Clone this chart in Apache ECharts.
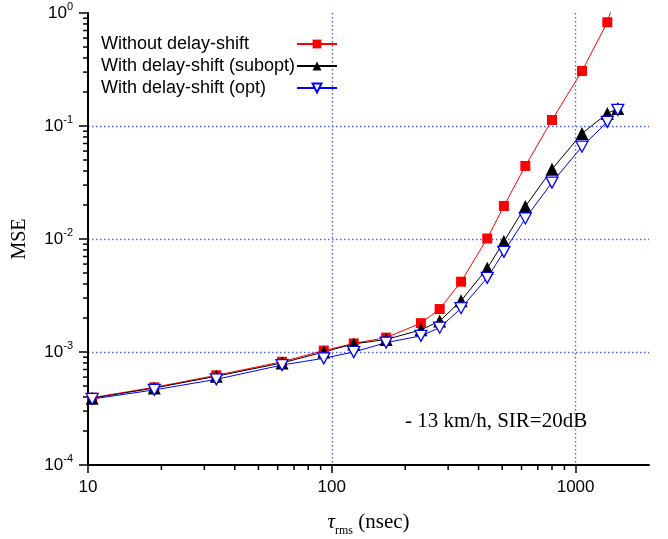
<!DOCTYPE html>
<html>
<head>
<meta charset="utf-8">
<script src="https://cdn.jsdelivr.net/npm/echarts@6/dist/echarts.min.js"></script>
<style>
html,body{margin:0;padding:0;background:#fff;}
#c{width:668px;height:539px;}
</style>
</head>
<body>
<div id="c"></div>
<script>
// ---- data ----
var tauRms = [10.4, 18.7, 33.6, 62.5, 92.7, 123, 167, 232, 277, 339, 434, 508, 622, 800, 1062, 1349, 1489];
var mseWithout = [3.94e-4, 4.87e-4, 6.22e-4, 8.2e-4, 1.03e-3, 1.19e-3, 1.34e-3, 1.80e-3, 2.40e-3, 4.19e-3, 1.01e-2, 1.96e-2, 4.43e-2, 0.113, 0.307, 0.828, 1.65];
var mseSubopt = [3.9e-4, 4.8e-4, 6.1e-4, 8.0e-4, 1.0e-3, 1.18e-3, 1.29e-3, 1.57e-3, 1.88e-3, 2.84e-3, 5.5e-3, 9.5e-3, 1.94e-2, 4.14e-2, 0.086, 0.129, 0.143];
var mseOpt = [3.84e-4, 4.62e-4, 5.73e-4, 7.67e-4, 8.8e-4, 1.0e-3, 1.21e-3, 1.39e-3, 1.64e-3, 2.44e-3, 4.54e-3, 7.7e-3, 1.52e-2, 3.16e-2, 0.0656, 0.109, 0.139];
var seriesNames = ['Without delay-shift', 'With delay-shift (subopt)', 'With delay-shift (opt)'];
var xTickLabels = ['10', '100', '1000'];
var xMin = 10, xMax = 2000, yMin = 1e-4, yMax = 1;
var annotation = '- 13 km/h, SIR=20dB';

function pairs(xs, ys) { return xs.map(function (x, i) { return [x, ys[i]]; }); }
function minorTicks(lo, hi) {
  var out = [];
  for (var d = lo; d < hi; d *= 10) {
    for (var m = 2; m <= 9; m++) { var v = m * d; if (v < hi) out.push(v); }
  }
  return out;
}
var xMinor = minorTicks(10, 2000);
var yMinor = minorTicks(1e-4, 1);

var sans = '"Liberation Sans", Arial, sans-serif';
var serif = '"Liberation Serif", "Times New Roman", serif';
var gridColor = '#4f5fff';

var chart = echarts.init(document.getElementById('c'));
chart.setOption({
  animation: false,
  backgroundColor: '#fff',
  grid: { left: 88, right: 19, top: 13, bottom: 74, containLabel: false, outerBoundsMode: 'none' },
  legend: {
    data: seriesNames,
    orient: 'vertical',
    left: 96, top: 30,
    align: 'right',
    itemWidth: 40, itemHeight: 11, itemGap: 4,
    formatter: '{a|{name}}',
    textStyle: {
      fontFamily: sans, fontSize: 18, color: '#000',
      rich: { a: { fontFamily: sans, fontSize: 18, color: '#000', width: 191, align: 'left' } }
    },
    selectedMode: false
  },
  xAxis: {
    type: 'log', logBase: 10, min: xMin, max: xMax,
    name: '{t|τ}{s|rms}{n| (nsec)}',
    nameLocation: 'middle', nameGap: 42,
    nameTextStyle: {
      rich: {
        t: { fontFamily: serif, fontStyle: 'italic', fontSize: 21, color: '#000', lineHeight: 30, verticalAlign: 'middle' },
        s: { fontFamily: serif, fontSize: 12, color: '#000', padding: [17, 0, 0, 0] },
        n: { fontFamily: serif, fontSize: 21, color: '#000', lineHeight: 30, verticalAlign: 'middle' }
      }
    },
    axisLine: { lineStyle: { color: '#000', width: 2 } },
    axisTick: { length: 8, lineStyle: { color: '#000', width: 1.5 } },
    axisLabel: {
      showMaxLabel: false, margin: 14, fontFamily: sans, fontSize: 17, color: '#000',
      formatter: function (v) {
        var s = String(Math.round(v));
        return xTickLabels.indexOf(s) >= 0 ? s : '';
      }
    },
    splitLine: { show: true, showMinLine: false, showMaxLine: false, lineStyle: { color: gridColor, type: [1.5, 2.5], width: 1.4 } },
    minorTick: { show: false }
  },
  yAxis: {
    type: 'log', logBase: 10, min: yMin, max: yMax,
    name: 'MSE', nameLocation: 'middle', nameGap: 58,
    nameTextStyle: { fontFamily: serif, fontSize: 20, color: '#000' },
    axisLine: { lineStyle: { color: '#000', width: 2 } },
    axisTick: { length: 9, lineStyle: { color: '#000', width: 1.5 } },
    axisLabel: {
      margin: 15, color: '#000',
      formatter: function (v) {
        var e = Math.round(Math.log(v) / Math.LN10);
        return '{b|10}{s|' + e + '}';
      },
      rich: {
        b: { fontFamily: sans, fontSize: 17, color: '#000' },
        s: { fontFamily: sans, fontSize: 11, color: '#000', padding: [0, 0, 12, 0] }
      }
    },
    splitLine: { show: true, showMinLine: false, showMaxLine: false, lineStyle: { color: gridColor, type: [1.5, 2.5], width: 1.4 } }
  },
  graphic: [{
    type: 'text', left: 405, top: 411,
    style: { text: annotation, font: '21px ' + serif, fill: '#000' }
  }],
  series: [
    {
      name: seriesNames[0], type: 'line', data: pairs(tauRms, mseWithout),
      symbol: 'rect', symbolSize: 10, clip: true,
      lineStyle: { color: '#ff0000', width: 1 },
      itemStyle: { color: '#ff0000' }
    },
    {
      name: seriesNames[1], type: 'line', data: pairs(tauRms, mseSubopt),
      symbol: 'triangle', symbolSize: 13, clip: true,
      lineStyle: { color: '#000', width: 1 },
      itemStyle: { color: '#000' }
    },
    {
      name: seriesNames[2], type: 'line', data: pairs(tauRms, mseOpt),
      symbol: 'path://M0,0L20,0L10,18Z', symbolSize: [12, 11], clip: true,
      lineStyle: { color: '#0000ff', width: 1 },
      itemStyle: { color: '#ffffff', borderColor: '#0000ff', borderWidth: 1.3 }
    },
    {
      name: 'xminor', type: 'custom', silent: true, clip: false, z: 5,
      data: xMinor.map(function (v) { return [v, yMin]; }),
      renderItem: function (params, api) {
        var p = api.coord([api.value(0), api.value(1)]);
        return { type: 'line', shape: { x1: p[0], y1: p[1], x2: p[0], y2: p[1] + 5 }, style: { stroke: '#000', lineWidth: 1.5 } };
      }
    },
    {
      name: 'yminor', type: 'custom', silent: true, clip: false, z: 5,
      data: yMinor.map(function (v) { return [xMin, v]; }),
      renderItem: function (params, api) {
        var p = api.coord([api.value(0), api.value(1)]);
        return { type: 'line', shape: { x1: p[0], y1: p[1], x2: p[0] - 5, y2: p[1] }, style: { stroke: '#000', lineWidth: 1.5 } };
      }
    }
  ]
});
</script>
</body>
</html>
